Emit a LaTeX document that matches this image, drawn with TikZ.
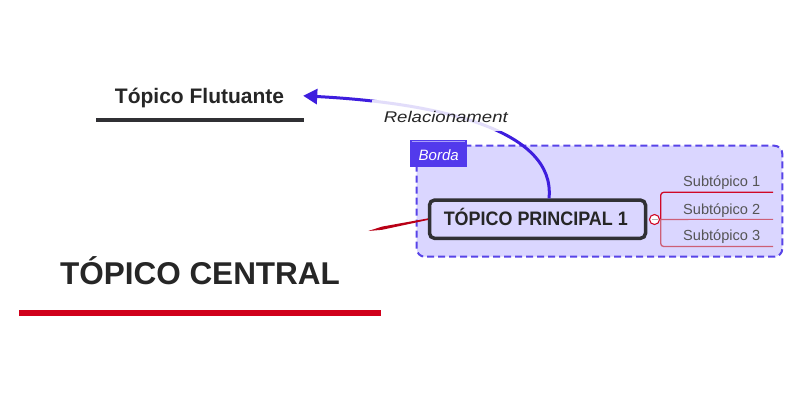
\documentclass[tikz,border=0pt]{standalone}
\usepackage{fontspec}
\setmainfont{Liberation Sans}
\usetikzlibrary{arrows.meta}
\definecolor{txt}{RGB}{38,38,38}
\definecolor{cred}{RGB}{208,0,27}
\definecolor{lav}{RGB}{218,214,255}
\definecolor{bord}{RGB}{88,68,232}
\definecolor{bordafill}{RGB}{82,58,236}
\definecolor{bordaline}{RGB}{170,160,250}
\definecolor{rel}{RGB}{62,30,222}
\definecolor{subred}{RGB}{208,8,38}
\definecolor{subpink}{RGB}{205,95,118}
\definecolor{subtxt}{RGB}{85,85,85}
\definecolor{conred}{RGB}{185,0,22}
\definecolor{mainbd}{RGB}{48,48,52}
\tikzset{
  titletext/.style={inner sep=0pt, text=txt, anchor=base},
  subtext/.style={inner sep=0pt, text=subtxt, anchor=base, font=\fontsize{14.6}{17}\selectfont},
  subline/.style={line width=1.3pt, rounded corners=3pt},
}
\begin{document}
\begin{tikzpicture}[x=1pt,y=-1pt]
\useasboundingbox (0,0) rectangle (800,400);
\fill[white] (0,0) rectangle (800,400);

% floating topic
\node[titletext, font=\fontsize{21}{25}\selectfont\bfseries, minimum width=207pt, text height=15pt, text depth=0pt] (flut) at (199.5,103.3) {Tópico Flutuante};
\draw[mainbd, line width=4pt] (96,120.3) -- (304,120.3);

% central topic
\node[titletext, font=\fontsize{31.5}{36}\selectfont\bfseries, minimum width=362pt, text height=23pt, text depth=0pt] (cent) at (200,284) {TÓPICO CENTRAL};
\draw[cred, line width=6pt] (19,313.4) -- (381,313.4);

% boundary
\draw[bord, line width=2pt, dash pattern=on 7pt off 4pt, fill=lav, rounded corners=8pt] (416.7,145.7) rectangle (782.3,256.7);
\node[fill=bordafill, minimum width=57.4pt, minimum height=27.4pt, inner sep=0pt, anchor=north west] (borda) at (409.3,139.3) {};
\draw[bordaline, line width=1pt] (411.5,141.8) -- (464.5,141.8);
\node[inner sep=0pt, text=white, anchor=base, font=\fontsize{15}{18}\selectfont\itshape] (bordalab) at (438.7,160.3) {Borda};

% main topic
\node[draw=mainbd, line width=3.5pt, rounded corners=5pt, fill=lav, minimum width=216pt, minimum height=38.2pt, inner sep=0pt] (main) at (537.5,219.2) {};
\node[inner sep=0pt, text=txt, anchor=base] (mainlab) at (535.8,225) {\scalebox{0.92}[1]{\fontsize{19.5}{22}\selectfont\bfseries TÓPICO PRINCIPAL 1}};

% connector from central topic (free end)
\coordinate (cfree) at (368.3,231);
\fill[conred] (cfree) -- (382,226.6) -- ([yshift=0.8pt]main.west) -- ([yshift=-0.8pt]main.west) -- (382,229.8) -- cycle;

% subtopics
\coordinate (col) at (654.5,219.5);
\node[subtext] (s1) at (721.7,186.7) {Subtópico 1};
\node[subtext] (s2) at (721.7,214) {Subtópico 2};
\node[subtext] (s3) at (721.7,240.7) {Subtópico 3};
\coordinate (e1) at (773,192.3);
\coordinate (e2) at (773,219.3);
\coordinate (e3) at (773,246.5);
\draw[subline, subred] (660.7,219.3) |- (e1);
\draw[subline, subpink] (660.7,219.3) |- (e3);
\draw[subpink, line width=1.1pt] (col) -- (e2);
\draw[subred, line width=1.1pt, fill=white] (col) circle (5pt);
\fill[gray!60] ([xshift=-3pt,yshift=-0.9pt]col) rectangle ([xshift=3pt,yshift=0.9pt]col);

% relationship
\draw[rel, line width=3pt, -{Triangle[length=14pt,width=15pt]}] ([xshift=11.5pt]main.north) .. controls (556,130) and (440,103) .. (flut.east);
\node[fill=white, fill opacity=0.85, text opacity=1, inner sep=0pt, minimum width=134pt, minimum height=31pt] (rellab) at (438.5,115) {};
\node[inner sep=0pt, anchor=base, text=txt] (reltxt) at (445.8,122.7) {\scalebox{1.2}[1]{\fontsize{15.5}{18}\selectfont\itshape Relacionament}};
\end{tikzpicture}
\end{document}
